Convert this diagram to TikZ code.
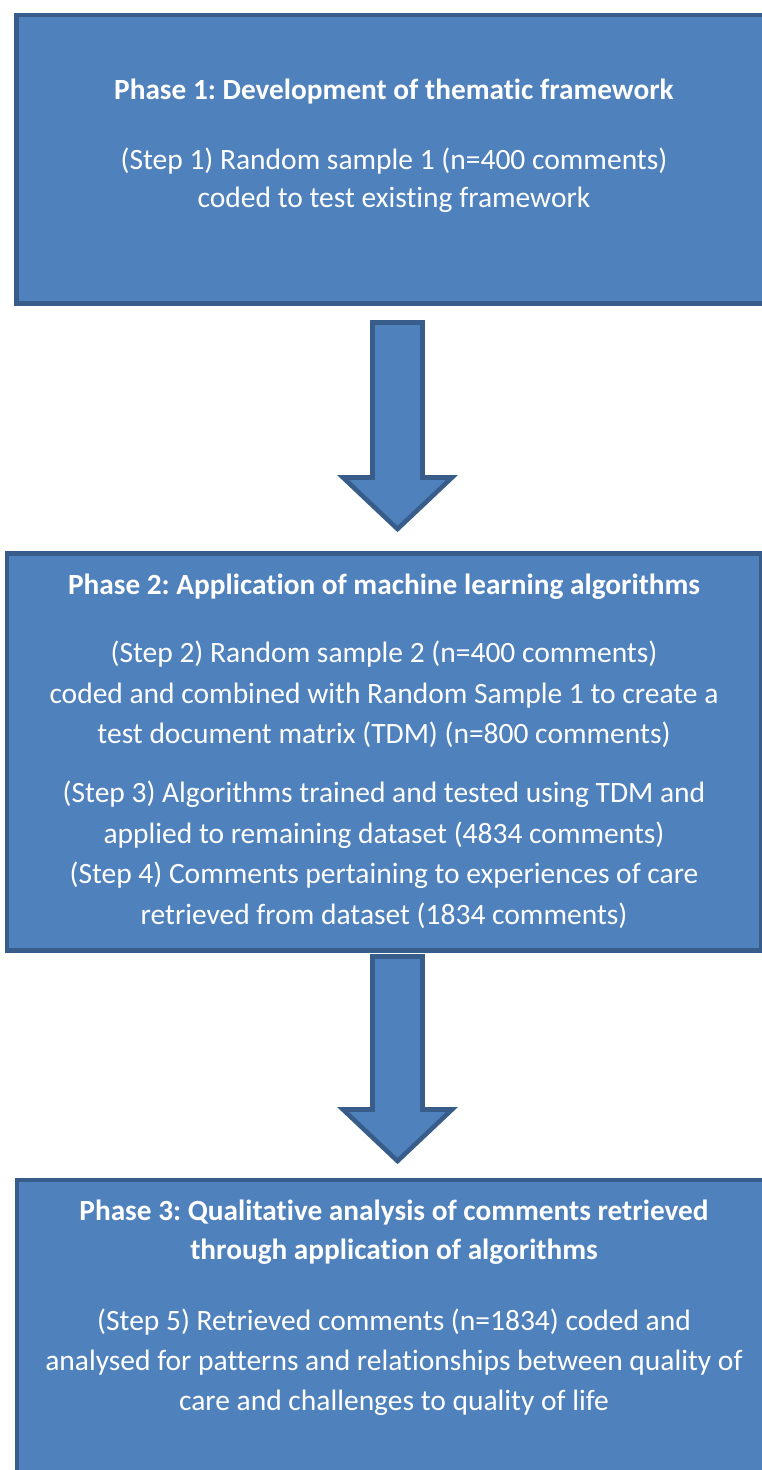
\documentclass[tikz,border=0pt]{standalone}
\usepackage{fontspec}
\setmainfont[RawFeature={-liga;-clig;-calt;-dlig}]{Carlito}
\frenchspacing
\usetikzlibrary{calc}

\definecolor{phasefill}{HTML}{4F81BD}
\definecolor{phaseline}{HTML}{385D8A}

\newcommand\blockarrow[2]{%
  \draw[arrowbody] ($(#1)+(-25,0)$) -- ($(#1)+(25,0)$) -- ($(#2)+(25,-51.5)$)
    -- ($(#2)+(54.5,-51.5)$) -- (#2) -- ($(#2)+(-54.5,-51.5)$)
    -- ($(#2)+(-25,-51.5)$) -- cycle;}

\begin{document}
\begin{tikzpicture}[x=1pt,y=-1pt]
        \tikzstyle{phasebox} = [rectangle,draw=phaseline,fill=phasefill,line width=4.6pt,
          inner sep=0pt]
        \tikzstyle{arrowbody} = [draw=phaseline,fill=phasefill,line width=4.6pt,miter limit=4]
        \tikzstyle{headtext} = [text=white,font=\fontsize{29.3}{39}\selectfont\bfseries,
          align=center,anchor=base,inner sep=0pt]
        \tikzstyle{bodytext} = [text=white,font=\fontsize{29.5}{40.5}\selectfont,
          align=center,anchor=base,inner sep=0pt]
        \clip (0,0) rectangle (762,1470);
        \node[phasebox,minimum width=755.4pt,minimum height=288.3pt] (p1) at (394,159.2) {};
        \node[phasebox,minimum width=754.4pt,minimum height=397pt] (p2) at (384,752) {};
        \node[phasebox,minimum width=754.4pt,minimum height=320.2pt] (p3) at (394,1339.9) {};
        \node[headtext] (p1head) at (394,99.3) {Phase 1: Development of thematic framework};
        \node[bodytext,font=\fontsize{29.5}{38}\selectfont] (p1text) at (394,207.2)
          {(Step 1) Random sample 1 (n=400 comments)\\coded to test existing framework};
        \node[headtext] (p2head) at (384,594.3) {Phase 2: Application of machine learning algorithms};
        \node[bodytext] (p2texta) at (384,743.5)
          {(Step 2) Random sample 2 (n=400 comments)\\coded and combined with Random Sample 1 to create a\\test document matrix (TDM) (n=800 comments)};
        \node[bodytext,font=\fontsize{29.5}{40.7}\selectfont] (p2textb) at (384,924.4)
          {(Step 3) Algorithms trained and tested using TDM and\\applied to remaining dataset (4834 comments)\\(Step 4) Comments pertaining to experiences of care\\retrieved from dataset (1834 comments)};
        \node[headtext] (p3head) at (394,1259)
          {Phase 3: Qualitative analysis of comments retrieved\\through application of algorithms};
        \node[bodytext,font=\fontsize{29.5}{40}\selectfont] (p3text) at (394,1410)
          {(Step 5) Retrieved comments (n=1834) coded and\\analysed for patterns and relationships between quality of\\care and challenges to quality of life};
        \coordinate (a1top) at (397.5,322.5);
        \coordinate (a1tip) at (397.5,529);
        \coordinate (a2top) at (397.5,956.5);
        \coordinate (a2tip) at (397.5,1161);
        \blockarrow{a1top}{a1tip}
        \blockarrow{a2top}{a2tip}
\end{tikzpicture}
\end{document}
